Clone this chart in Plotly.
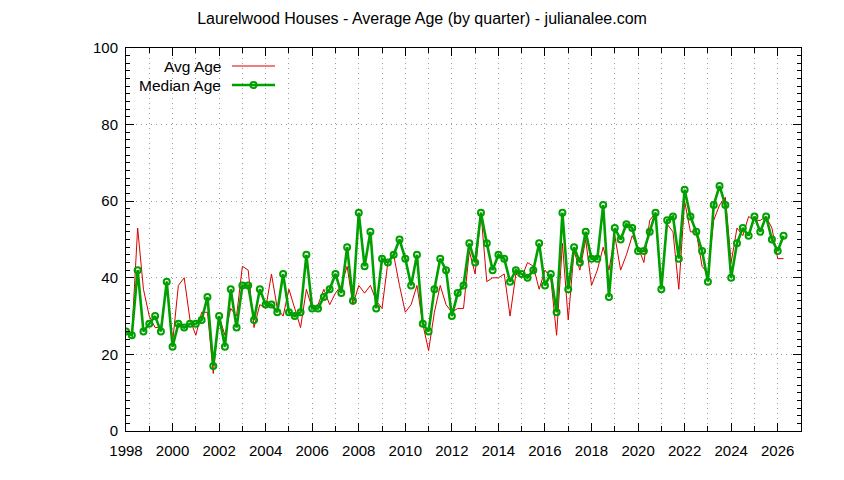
import plotly.graph_objects as go

quarters = [f"{y}-Q{q}" for y in range(1998, 2027) for q in range(1, 5)][:114]

avg_age = [26, 25, 53, 37, 30, 27, 27, 39, 23, 38, 40, 29, 25, 31, 31, 15, 30, 25, 32, 30,
           43, 42, 27, 33, 32, 41, 32, 30, 37, 32, 27, 37, 32, 33, 37, 33, 36, 38, 43, 33,
           38, 36, 38, 34, 32, 44, 46, 38, 31, 33, 38, 28, 21, 31, 38, 33, 31, 32, 32, 47,
           41, 57, 39, 40, 40, 41, 30, 41, 40, 44, 43, 37, 42, 40, 25, 49, 29, 47, 42, 50,
           38, 42, 48, 42, 51, 42, 46, 51, 48, 44, 55, 57, 38, 54, 52, 37, 60, 52, 52, 43,
           41, 55, 59, 61, 44, 53, 51, 56, 55, 55, 56, 53, 45, 45]

median_age = [26, 25, 42, 26, 28, 30, 26, 39, 22, 28, 27, 28, 28, 29, 35, 17, 30, 22, 37, 27,
              38, 38, 29, 37, 33, 33, 31, 41, 31, 30, 31, 46, 32, 32, 35, 37, 41, 36, 48, 34,
              57, 43, 52, 32, 45, 44, 46, 50, 45, 38, 46, 28, 26, 37, 45, 42, 30, 36, 38, 49,
              44, 57, 49, 42, 46, 45, 39, 42, 41, 40, 42, 49, 38, 41, 31, 57, 37, 48, 44, 52,
              45, 45, 59, 35, 53, 50, 54, 53, 47, 47, 52, 57, 37, 55, 56, 45, 63, 56, 52, 47,
              39, 59, 64, 59, 40, 49, 53, 51, 56, 52, 56, 50, 47, 51]

x_vals = [int(q[:4]) + (int(q[-1]) - 1) / 4 for q in quarters]

x_tick_vals = list(range(1998, 2027, 2))
y_tick_vals = [0, 20, 40, 60, 80, 100]

title_text = "Laurelwood Houses - Average Age (by quarter) - julianalee.com"
legend_names = ["Avg Age", "Median Age"]

RED = "#d80000"
GREEN = "#00a000"
FONT = "Liberation Sans, Arial, sans-serif"
GRID = "#9a9a9a"

fig = go.Figure()
fig.add_trace(go.Scatter(x=x_vals, y=avg_age, mode="lines", name=legend_names[0],
                         line=dict(color=RED, width=1), showlegend=False))
fig.add_trace(go.Scatter(x=x_vals, y=median_age, mode="lines+markers", name=legend_names[1],
                         line=dict(color=GREEN, width=2.6),
                         marker=dict(symbol="circle-open", size=6, color=GREEN,
                                     line=dict(width=2, color=GREEN)),
                         showlegend=False))

axis_common = dict(showline=True, linecolor="black", linewidth=1, mirror="allticks",
                   ticks="inside", tickcolor="black", ticklen=8, tickwidth=1,
                   zeroline=False, showgrid=True, gridcolor=GRID, griddash="1px,4px",
                   gridwidth=1, tickfont=dict(family=FONT, size=15, color="black"))

fig.update_xaxes(range=[1998, 2027], tickmode="array", tickvals=x_tick_vals,
                 minor=dict(dtick=1, tick0=1998, ticks="inside", ticklen=5, tickcolor="black",
                            showgrid=True, gridcolor=GRID, griddash="1px,4px", gridwidth=1),
                 ticklabelstandoff=6, **axis_common)
fig.update_yaxes(range=[0, 100], tickmode="array", tickvals=y_tick_vals,
                 minor=dict(dtick=2, tick0=0, ticks="inside", ticklen=4, tickcolor="black",
                            showgrid=False),
                 ticklabelstandoff=4, **axis_common)

# page offset of the plot div (default body margin)
OFF = 8
W, H = 844 - OFF, 480 - OFF
ml, mr, mt, mb = 126 - OFF, 844 - 801, 48 - OFF, 480 - 431

# legend drawn gnuplot-style: right-aligned text with sample to the right
pw, ph = 801 - 126, 431 - 48
lx_text = (223 - 126) / pw
lx0 = (232 - 126) / pw
lx1 = (275 - 126) / pw
lxm = (lx0 + lx1) / 2
ly = [(431 - 66) / ph, (431 - 85) / ph]
for name, yy in zip(legend_names, ly):
    fig.add_annotation(x=lx_text, y=yy, xref="paper", yref="paper", text=name,
                       showarrow=False, xanchor="right", yanchor="middle",
                       font=dict(family=FONT, size=15.5, color="black"))
fig.add_shape(type="line", xref="paper", yref="paper", x0=lx0, x1=lx1, y0=ly[0], y1=ly[0],
              line=dict(color=RED, width=1))
fig.add_shape(type="line", xref="paper", yref="paper", x0=lx0, x1=lx1, y0=ly[1], y1=ly[1],
              line=dict(color=GREEN, width=2.6))
fig.add_shape(type="circle", xref="paper", yref="paper", xsizemode="pixel", ysizemode="pixel",
              xanchor=lxm, yanchor=ly[1], x0=-3, x1=3, y0=-3, y1=3,
              line=dict(color=GREEN, width=2), fillcolor="rgba(0,0,0,0)")

fig.update_layout(
    width=W, height=H,
    margin=dict(l=ml, r=mr, t=mt, b=mb),
    paper_bgcolor="white", plot_bgcolor="white",
    title=dict(text=title_text, xref="container", x=(422 - OFF) / W, xanchor="center",
               yref="container", y=1 - (18 - OFF) / H, yanchor="middle",
               font=dict(family=FONT, size=16, color="black")),
    font=dict(family=FONT, size=15, color="black"),
    showlegend=False,
)

fig.write_html("out.html")
